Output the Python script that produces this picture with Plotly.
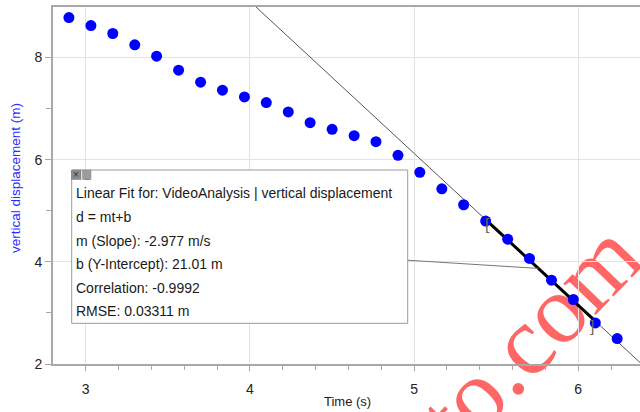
import plotly.graph_objects as go

# ---------------- data ----------------
time_s = [2.898, 3.032, 3.165, 3.299, 3.432, 3.566, 3.700, 3.833, 3.967, 4.100,
          4.234, 4.367, 4.501, 4.635, 4.768, 4.902, 5.035, 5.169, 5.302, 5.436,
          5.570, 5.703, 5.837, 5.970, 6.104, 6.237]
vert_disp_m = [8.784, 8.627, 8.471, 8.249, 8.027, 7.753, 7.518, 7.361, 7.229, 7.118,
               6.935, 6.725, 6.596, 6.471, 6.353, 6.086, 5.753, 5.431, 5.118, 4.798,
               4.445, 4.067, 3.641, 3.263, 2.804, 2.498]
fit_slope = -2.977
fit_intercept = 21.01
fit_start_idx = 19   # selection start (bracket "[")
fit_end_idx = 24     # selection end (bracket "]")
fit_lines = [
    "Linear Fit for: VideoAnalysis | vertical displacement",
    "d = mt+b",
    "m (Slope): -2.977 m/s",
    "b (Y-Intercept): 21.01 m",
    "Correlation: -0.9992",
    "RMSE: 0.03311 m",
]
x_tick_vals = [3, 4, 5, 6]
y_tick_vals = [2, 4, 6, 8]
watermark_text = "to.com"

# ---------------- layout helpers ----------------
W, H = 640, 412
PL, PR, PT, PB = 53, 640, 7, 364
PW, PH = PR - PL, PB - PT


def px(x):
    return (x - PL) / PW


def py(y):
    return (PB - y) / PH


def fit(t):
    return fit_slope * t + fit_intercept


FONT = "Liberation Sans, Arial, sans-serif"

fig = go.Figure()

# full fit line (thin)
line_x = [3.9, 6.5]
fig.add_trace(go.Scatter(x=line_x, y=[fit(v) for v in line_x], mode="lines",
                         line=dict(color="#555555", width=1), hoverinfo="skip",
                         showlegend=False))
# bold selected-range segment
seg_x = [time_s[fit_start_idx], time_s[fit_end_idx]]
fig.add_trace(go.Scatter(x=seg_x, y=[fit(v) for v in seg_x], mode="lines",
                         line=dict(color="#000000", width=3), hoverinfo="skip",
                         showlegend=False))
# data points
fig.add_trace(go.Scatter(x=time_s, y=vert_disp_m, mode="markers",
                         marker=dict(color="#0000ff", size=11, line=dict(width=0)),
                         showlegend=False))

shapes = []
annotations = []

# watermark (below the data, drawn as a shape label)
wm_cx, wm_cy = 522, 328
shapes.append(dict(type="rect", xref="paper", yref="paper",
                   x0=px(wm_cx - 1), x1=px(wm_cx + 1), y0=py(wm_cy + 1), y1=py(wm_cy - 1),
                   line=dict(width=0), fillcolor="rgba(0,0,0,0)", layer="below",
                   label=dict(text=watermark_text, textangle=-46,
                              textposition="middle center", padding=0,
                              font=dict(family="Liberation Serif, Times New Roman, serif",
                                        size=98, color="rgba(255,0,0,0.6)"))))

# connector from box to fit line
conn_t = 5.757
shapes.append(dict(type="line", xref="x", yref="y", x0=4.955, y0=4.033,
                   x1=conn_t, y1=fit(conn_t), line=dict(color="#777777", width=1),
                   layer="above"))
# fit info box
shapes.append(dict(type="rect", xref="paper", yref="paper",
                   x0=px(71.7), x1=px(407.7), y0=py(323.3), y1=py(170),
                   fillcolor="white", line=dict(color="#9a9a9a", width=1), layer="above"))
# little window icons
shapes.append(dict(type="rect", xref="paper", yref="paper",
                   x0=px(71.5), x1=px(81), y0=py(179.5), y1=py(170),
                   fillcolor="#8c8c8c", line=dict(color="#777777", width=0.5), layer="above"))
shapes.append(dict(type="rect", xref="paper", yref="paper",
                   x0=px(82.5), x1=px(91), y0=py(179.5), y1=py(170),
                   fillcolor="#9c9c9c", line=dict(color="#888888", width=0.5), layer="above"))
annotations.append(dict(xref="paper", yref="paper", x=px(76.3), y=py(174.8),
                        text="×", showarrow=False, xanchor="center", yanchor="middle",
                        font=dict(family=FONT, size=10, color="#333333"), borderpad=0))
annotations.append(dict(xref="paper", yref="paper", x=px(86.8), y=py(175.5),
                        text="_", showarrow=False, xanchor="center", yanchor="middle",
                        font=dict(family=FONT, size=8, color="#555555"), borderpad=0))

line_centers = [193.3, 217.3, 241.0, 264.3, 287.6, 311.0]
for txt, yc in zip(fit_lines, line_centers):
    annotations.append(dict(xref="paper", yref="paper", x=px(74.5), y=py(yc),
                            text=txt, showarrow=False, xanchor="left", yanchor="middle",
                            font=dict(family=FONT, size=14, color="#1a1a1a"), borderpad=0))

# range brackets
annotations.append(dict(xref="x", yref="y", x=time_s[fit_start_idx], y=vert_disp_m[fit_start_idx],
                        text="[", showarrow=False, xshift=2, yshift=-3,
                        font=dict(family=FONT, size=16, color="#666666")))
annotations.append(dict(xref="x", yref="y", x=time_s[fit_end_idx], y=vert_disp_m[fit_end_idx],
                        text="]", showarrow=False, xshift=-3, yshift=-4,
                        font=dict(family=FONT, size=16, color="#666666")))

# axis titles
annotations.append(dict(xref="paper", yref="paper", x=px(15), y=py(178),
                        text="vertical displacement (m)", showarrow=False, textangle=-90,
                        xanchor="center", yanchor="middle",
                        font=dict(family=FONT, size=13.5, color="#2a2aff")))
annotations.append(dict(xref="paper", yref="paper", x=px(348), y=py(401),
                        text="Time (s)", showarrow=False,
                        xanchor="center", yanchor="middle",
                        font=dict(family=FONT, size=13, color="#1a1a1a")))

fig.update_layout(
    width=W, height=H,
    margin=dict(l=PL, r=W - PR, t=PT, b=H - PB, pad=0),
    plot_bgcolor="rgba(0,0,0,0)", paper_bgcolor="white",
    shapes=shapes, annotations=annotations,
    font=dict(family=FONT, color="#222222"),
    showlegend=False,
)
fig.update_xaxes(
    range=[2.801, 6.376], tickvals=x_tick_vals, ticktext=[str(v) for v in x_tick_vals],
    showgrid=True, gridcolor="#e3e3e3", gridwidth=1,
    showline=True, linecolor="#a8a8a8", linewidth=2, mirror=True,
    ticks="outside", ticklen=5, tickcolor="#a8a8a8", tickwidth=1,
    tickfont=dict(family=FONT, size=14, color="#222222"),
    ticklabelstandoff=6,
    minor=dict(dtick=0.2, tick0=0, ticks="outside", ticklen=4, tickcolor="#a8a8a8",
               showgrid=False),
    zeroline=False,
)
fig.update_yaxes(
    range=[2.0, 8.99], tickvals=y_tick_vals, ticktext=[str(v) for v in y_tick_vals],
    showgrid=True, gridcolor="#e3e3e3", gridwidth=1,
    showline=True, linecolor="#a8a8a8", linewidth=2, mirror=False,
    ticks="outside", ticklen=6, tickcolor="#a8a8a8", tickwidth=1,
    tickfont=dict(family=FONT, size=14, color="#222222"),
    minor=dict(dtick=1, tick0=0, ticks="outside", ticklen=5, tickcolor="#a8a8a8",
               showgrid=False),
    zeroline=False,
)

fig.write_html("out.html")
